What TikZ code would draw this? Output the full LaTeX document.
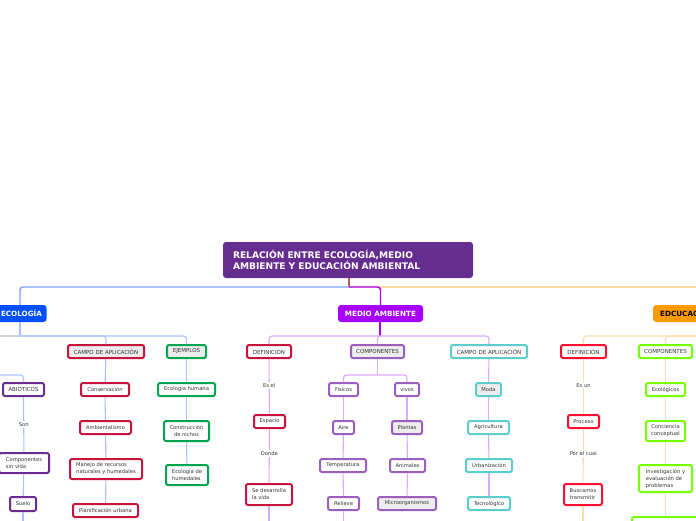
\documentclass[tikz,border=0pt]{standalone}
\usepackage{fontspec}
\setmainfont{DejaVu Sans}
\usetikzlibrary{positioning}

\begin{document}
\begin{tikzpicture}[x=1pt, y=-1pt,
    wh/.style 2 args={minimum width=#1, minimum height=#2},
    box/.style={draw, line width=2pt, rounded corners=2pt, fill=white, text=inkCol,
        font=\fontsize{5.2}{7}\selectfont, inner sep=0pt, align=center},
    greyBox/.style={box, fill=boxGrey},
    caps/.style={font=\fontsize{5.5}{7}\selectfont},
    topic/.style={rounded corners=3pt, inner sep=0pt, font=\fontsize{7.2}{8}\selectfont\bfseries, text=white},
    cue/.style={fill=white, text=inkCol, font=\fontsize{5.2}{6}\selectfont, inner sep=1.5pt},
    ecoLine/.style={line width=1.1pt, draw=ecoLineCol, rounded corners=3pt},
    maLine/.style={line width=1.1pt, draw=maLineCol, rounded corners=3pt},
    eduLine/.style={line width=1.1pt, draw=eduLineCol, rounded corners=3pt}]

    % Colors
    \definecolor{titleCol}{HTML}{662D91}
    \definecolor{ecoCol}{HTML}{0050FF}
    \definecolor{maCol}{HTML}{A800FF}
    \definecolor{eduCol}{HTML}{FF9900}
    \definecolor{ecoLineCol}{HTML}{A9C2FF}
    \definecolor{maLineCol}{HTML}{DDA8FF}
    \definecolor{eduLineCol}{HTML}{FFDDAA}
    \definecolor{crimsonCol}{HTML}{C8143C}
    \definecolor{greenCol}{HTML}{00A550}
    \definecolor{plumCol}{HTML}{6B2C91}
    \definecolor{lilacCol}{HTML}{9B5FC0}
    \definecolor{tealCol}{HTML}{5BCDCD}
    \definecolor{redCol}{HTML}{FF1030}
    \definecolor{limeCol}{HTML}{77FF00}
    \definecolor{inkCol}{HTML}{333333}
    \definecolor{boxGrey}{HTML}{EDEDED}

    \useasboundingbox (0,0) rectangle (696,520);
    \clip (0,0) rectangle (696,520);
    \fill[white] (0,0) rectangle (696,520);

    % Main topics
    \node[topic, fill=titleCol, wh={250}{36}, text width=230, align=left,
        font=\fontsize{9.1}{11.5}\selectfont\bfseries] (title) at (348,260)
        {RELACIÓN ENTRE ECOLOGÍA,MEDIO\\AMBIENTE Y EDUCACIÓN AMBIENTAL};
    \node[topic, fill=ecoCol, wh={50}{17}] (eco) at (21.5,313.5) {ECOLOGÍA};
    \node[topic, fill=maCol, wh={85}{17}] (ma) at (380.5,313.5) {MEDIO AMBIENTE};
    \node[topic, fill=eduCol, text=black, minimum height=17, inner xsep=7pt, anchor=west]
        (edu) at (653,313.5) {EDCUCACIÓN AMBIENTAL};

    \coordinate (hub) at (349,287);
    \draw[line width=1.4pt, draw=titleCol!50!eduCol] (title.south -| hub) -- (hub);
    \draw[line width=1.4pt, draw=ecoCol!52, rounded corners=3pt] (hub) -| (20,305);
    \draw[line width=1.4pt, draw=eduCol!55, rounded corners=3pt] (hub) -| (edu.north);
    \draw[line width=1.4pt, draw=maCol, rounded corners=3pt] (hub) -| (ma.north);

    % ---------------- Ecologia ----------------
    \coordinate (ecoBus) at (20,336);
    \draw[ecoLine] (eco.south -| ecoBus) -- (ecoBus);
    \draw[line width=1.1pt, draw=gray!35] (ecoBus) -- (-5,336);

    \node[greyBox, caps, draw=crimsonCol, wh={76}{13}] (ecoCampo) at (106,351.5) {CAMPO DE APLICACIÓN};
    \node[greyBox, caps, draw=greenCol, wh={39}{13}] (ecoEjemplos) at (186.5,351.5) {EJEMPLOS};
    \draw[ecoLine] (ecoBus) -| (ecoCampo.north);
    \draw[ecoLine] (ecoBus) -| (ecoEjemplos.north);

    \node[box, draw=crimsonCol, wh={48}{13}] (conservacion) at (105,389.5) {Conservación};
    \node[box, draw=crimsonCol, wh={51}{13}] (ambientalismo) at (105.5,427.5) {Ambientalismo};
    \node[box, draw=crimsonCol, wh={72}{20}, align=left] (manejo) at (106,469) {Manejo de recursos\\naturales y humedales};
    \node[box, draw=crimsonCol, wh={65}{13}] (planificacion) at (105.5,510.5) {Planificación urbana};
    \draw[ecoLine] (ecoCampo) -- (conservacion);
    \draw[ecoLine] (conservacion) -- (ambientalismo);
    \draw[ecoLine] (ambientalismo) -- (manejo);
    \draw[ecoLine] (manejo) -- (planificacion);

    \node[box, draw=greenCol, wh={57}{13}] (ecoHumana) at (186.5,389.5) {Ecologia humana};
    \node[box, draw=greenCol, wh={45}{20}] (nichos) at (186.5,431) {Construcción\\de nichos};
    \node[box, draw=greenCol, wh={42}{20}, align=left] (humedales) at (187,475) {Ecología de\\humedales};
    \draw[ecoLine] (ecoEjemplos) -- (ecoHumana);
    \draw[ecoLine] (ecoHumana) -- (nichos);
    \draw[ecoLine] (nichos) -- (humedales);

    \node[box, caps, draw=plumCol, wh={41}{13}] (abioticos) at (23.5,389.5) {ABIOTICOS};
    \node[box, draw=plumCol, wh={50}{20}, align=left] (sinVida) at (24,463) {Componentes\\sin vida};
    \node[box, draw=plumCol, wh={26}{14}] (suelo) at (23,504) {Suelo};
    \coordinate (abioticosIn) at (-5,375);
    \coordinate (sueloOut) at (23,525);
    \draw[ecoLine] (abioticosIn) -| (abioticos.north);
    \draw[ecoLine] (abioticos) -- (sinVida) node[cue, midway] (son) {Son};
    \draw[ecoLine] (sinVida) -- (suelo);
    \draw[ecoLine] (suelo) -- (sueloOut);

    % ---------------- Medio ambiente ----------------
    \coordinate (maBus) at (380,336);
    \draw[maLine, draw=maCol] (ma.south -| maBus) -- (maBus);

    \node[box, caps, draw=crimsonCol, wh={44}{13}] (maDef) at (269,351.5) {DEFINICIÓN};
    \node[greyBox, caps, draw=lilacCol, wh={53}{13}] (maComp) at (377.5,351.5) {COMPONENTES};
    \node[box, caps, draw=tealCol, wh={76}{13}] (maCampo) at (489,351.5) {CAMPO DE APLICACIÓN};
    \draw[maLine] (maBus) -| (maDef.north);
    \draw[maLine] (maBus) -| (maCampo.north);
    \draw[maLine] (maBus) -| (maComp.north);

    \node[box, draw=crimsonCol, wh={31}{13}] (espacio) at (269.5,421.5) {Espacio};
    \node[box, draw=crimsonCol, wh={46}{21}, align=left] (vida) at (269,494.5) {Se desarrolla\\la vida};
    \coordinate (vidaOut) at (269,525);
    \draw[maLine] (maDef) -- (espacio) node[cue, pos=0.48] (esEl) {Es el};
    \draw[maLine] (espacio) -- (vida) node[cue, pos=0.45] (donde) {Donde};
    \draw[maLine] (vida) -- (vidaOut);

    \coordinate (compBus) at (377.5,375);
    \node[box, draw=lilacCol, wh={29}{13}] (fisicos) at (343.5,389.5) {Fisicos};
    \node[box, draw=lilacCol, wh={24}{13}] (vivos) at (407,389.5) {vivos};
    \draw[maLine] (maComp.south) -- (compBus);
    \draw[maLine] (compBus) -| (fisicos.north);
    \draw[maLine] (compBus) -| (vivos.north);

    \node[box, draw=lilacCol, wh={21}{13}] (aire) at (343.5,427.5) {Aire};
    \node[box, draw=lilacCol, wh={46}{13}] (temperatura) at (343,465.5) {Temperatura};
    \node[box, draw=lilacCol, wh={31}{13}] (relieve) at (343.5,503.5) {Relieve};
    \coordinate (relieveOut) at (343.5,525);
    \draw[maLine] (fisicos) -- (aire);
    \draw[maLine] (aire) -- (temperatura);
    \draw[maLine] (temperatura) -- (relieve);
    \draw[maLine] (relieve) -- (relieveOut);

    \node[greyBox, draw=lilacCol, wh={30}{13}] (plantas) at (407,427.5) {Plantas};
    \node[box, draw=lilacCol, wh={35}{13}] (animales) at (407.5,465.5) {Animales};
    \node[greyBox, draw=lilacCol, wh={58}{13}] (micro) at (407,503.5) {Microorganismos};
    \draw[maLine] (vivos) -- (plantas);
    \draw[maLine] (plantas) -- (animales);
    \draw[maLine] (animales) -- (micro);

    \node[greyBox, draw=tealCol, wh={25}{13}] (moda) at (488.5,389.5) {Moda};
    \node[box, draw=tealCol, wh={41}{13}] (agricultura) at (488.5,427.5) {Agricultura};
    \node[box, draw=tealCol, wh={46}{13}] (urbanizacion) at (489,465.5) {Urbanización};
    \node[box, draw=tealCol, wh={42}{13}] (tecnologico) at (489,503.5) {Tecnológico};
    \draw[maLine] (maCampo) -- (moda);
    \draw[maLine] (moda) -- (agricultura);
    \draw[maLine] (agricultura) -- (urbanizacion);
    \draw[maLine] (urbanizacion) -- (tecnologico);

    % ---------------- Educacion ambiental ----------------
    \coordinate (eduBus) at (720,336);
    \node[box, caps, draw=redCol, wh={45}{13}] (eduDef) at (583.5,351.5) {DEFINICIÓN};
    \node[box, caps, draw=limeCol, wh={53}{13}] (eduComp) at (665.5,351.5) {COMPONENTES};
    \draw[eduLine] (eduBus) -| (eduDef.north);
    \draw[eduLine] (eduBus) -| (eduComp.north);

    \node[box, draw=redCol, wh={31}{13}] (proceso) at (583.5,421.5) {Proceso};
    \node[box, draw=redCol, wh={38}{21}, align=left] (buscamos) at (583,494.5) {Buscamos\\transmitir};
    \coordinate (buscamosOut) at (583,525);
    \draw[eduLine] (eduDef) -- (proceso) node[cue, pos=0.48] (esUn) {Es un};
    \draw[eduLine] (proceso) -- (buscamos) node[cue, pos=0.45] (porElCual) {Por el cual};
    \draw[eduLine] (buscamos) -- (buscamosOut);

    \node[box, draw=limeCol, wh={39}{13}] (ecologicos) at (665.5,389.5) {Ecológicos};
    \node[box, draw=limeCol, wh={39}{20}] (conciencia) at (665.5,431) {Conciencia\\conceptual};
    \node[box, draw=limeCol, wh={53}{27}, align=left] (investigacion) at (665.5,478.5) {Investigación y\\evaluación de\\problemas};
    \node[box, draw=limeCol, wh={67}{26}] (eduNext) at (665.5,530) {};
    \draw[eduLine] (eduComp) -- (ecologicos);
    \draw[eduLine] (ecologicos) -- (conciencia);
    \draw[eduLine] (conciencia) -- (investigacion);
    \draw[eduLine] (investigacion) -- (eduNext);
\end{tikzpicture}
\end{document}
